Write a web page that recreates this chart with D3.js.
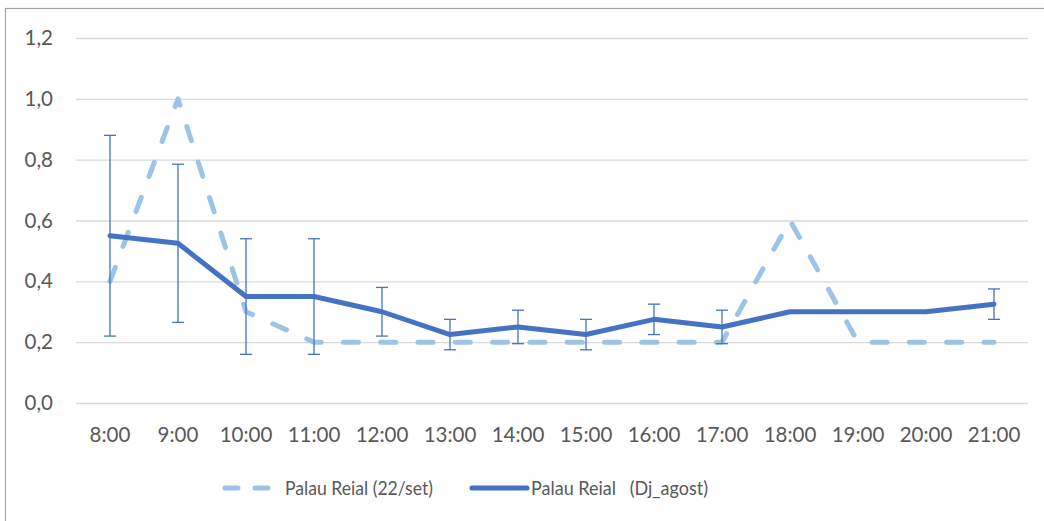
<!DOCTYPE html>
<html>
<head>
<meta charset="utf-8">
<script src="https://cdn.jsdelivr.net/npm/d3@7"></script>
<style>
  body { margin: 0; background: #fff; }
  svg text { font-family: Lato, "Open Sans", sans-serif; fill: #595959; }
</style>
</head>
<body>
<svg width="1044" height="521"></svg>
<script>
const hours = ["8:00", "9:00", "10:00", "11:00", "12:00", "13:00", "14:00",
               "15:00", "16:00", "17:00", "18:00", "19:00", "20:00", "21:00"];
const sept22 = [0.4, 1.0, 0.3, 0.2, 0.2, 0.2, 0.2, 0.2, 0.2, 0.2, 0.6, 0.2, 0.2, 0.2];
const august = [0.55, 0.525, 0.35, 0.35, 0.3, 0.225, 0.25, 0.225, 0.275, 0.25, 0.3, 0.3, 0.3, 0.325];
const augustErr = [0.33, 0.26, 0.19, 0.19, 0.08, 0.05, 0.055, 0.05, 0.05, 0.055, null, null, null, 0.05];
const yTicks = [0, 0.2, 0.4, 0.6, 0.8, 1.0, 1.2];
const seriesNames = ["Palau Reial (22/set)", "Palau Reial   (Dj_agost)"];

const svg = d3.select("svg");

// chart frame (right and bottom edges fall outside the picture)
svg.append("rect")
    .attr("x", 5.5).attr("y", 8.5)
    .attr("width", 1060).attr("height", 530)
    .attr("fill", "none")
    .attr("stroke", "#a6a6a6")
    .attr("stroke-width", 1.2);

const margin = {top: 38, left: 76},
      width = 952,
      height = 365;

const g = svg.append("g")
    .attr("transform", `translate(${margin.left},${margin.top})`);

const x = d3.scaleBand()
    .domain(hours)
    .range([0, width]);

const y = d3.scaleLinear()
    .domain([0, 1.2])
    .range([height, 0]);

const fmt = d => d3.format(".1f")(d).replace(".", ",");

// gridlines + y labels
g.append("g")
    .attr("class", "y-axis")
    .call(d3.axisLeft(y).tickValues(yTicks).tickSize(-width).tickFormat(fmt).tickPadding(23))
    .call(a => a.select(".domain").remove())
    .call(a => a.selectAll("line").attr("stroke", "#d9d9d9").attr("stroke-width", 1.3))
    .call(a => a.selectAll("text").attr("font-size", 20.5).attr("fill", "#595959")
        .style("font-family", "Lato, 'Open Sans', sans-serif"));

// x labels
g.append("g")
    .attr("class", "x-axis")
    .attr("transform", `translate(0,${height})`)
    .call(d3.axisBottom(x).tickSize(0).tickPadding(24))
    .call(a => a.select(".domain").remove())
    .call(a => a.selectAll("text").attr("font-size", 20.5).attr("fill", "#595959")
        .style("font-family", "Lato, 'Open Sans', sans-serif"));

const cx = d => x(d) + x.bandwidth() / 2;

const line = d3.line()
    .x((d, i) => cx(hours[i]))
    .y(d => y(d));

// dashed series
g.append("path")
    .datum(sept22)
    .attr("d", line)
    .attr("fill", "none")
    .attr("stroke", "#9dc3e6")
    .attr("stroke-width", 5)
    .attr("stroke-linecap", "round")
    .attr("stroke-linejoin", "round")
    .attr("stroke-dasharray", "15 22.3");

// solid series
g.append("path")
    .datum(august)
    .attr("d", line)
    .attr("fill", "none")
    .attr("stroke", "#4472c4")
    .attr("stroke-width", 5)
    .attr("stroke-linecap", "round")
    .attr("stroke-linejoin", "round");

// error bars
const errData = august.map((v, i) => ({h: hours[i], v: v, e: augustErr[i]}))
    .filter(d => d.e != null);

const eb = g.selectAll(".err")
    .data(errData)
    .enter().append("g")
    .attr("class", "err")
    .attr("stroke", "#4472c4")
    .attr("stroke-width", 1.3);

eb.append("line")
    .attr("x1", d => cx(d.h)).attr("x2", d => cx(d.h))
    .attr("y1", d => y(d.v - d.e)).attr("y2", d => y(d.v + d.e));
eb.append("line")
    .attr("x1", d => cx(d.h) - 6).attr("x2", d => cx(d.h) + 6)
    .attr("y1", d => y(d.v + d.e)).attr("y2", d => y(d.v + d.e));
eb.append("line")
    .attr("x1", d => cx(d.h) - 6).attr("x2", d => cx(d.h) + 6)
    .attr("y1", d => y(d.v - d.e)).attr("y2", d => y(d.v - d.e));

// legend
const legend = svg.append("g").attr("transform", "translate(0,488)");

legend.append("line")
    .attr("x1", 225).attr("x2", 268)
    .attr("stroke", "#9dc3e6")
    .attr("stroke-width", 5)
    .attr("stroke-linecap", "round")
    .attr("stroke-dasharray", "13 17");
legend.append("text")
    .attr("x", 285).attr("y", 0)
    .attr("dy", "0.35em")
    .attr("font-size", 20)
    .attr("textLength", 148)
    .attr("lengthAdjust", "spacingAndGlyphs")
    .text(seriesNames[0]);

legend.append("line")
    .attr("x1", 472).attr("x2", 527)
    .attr("stroke", "#4472c4")
    .attr("stroke-width", 5)
    .attr("stroke-linecap", "round");
legend.append("text")
    .attr("x", 531).attr("y", 0)
    .attr("dy", "0.35em")
    .attr("font-size", 20)
    .attr("textLength", 177)
    .attr("lengthAdjust", "spacingAndGlyphs")
    .style("white-space", "pre")
    .text(seriesNames[1]);
</script>
</body>
</html>
